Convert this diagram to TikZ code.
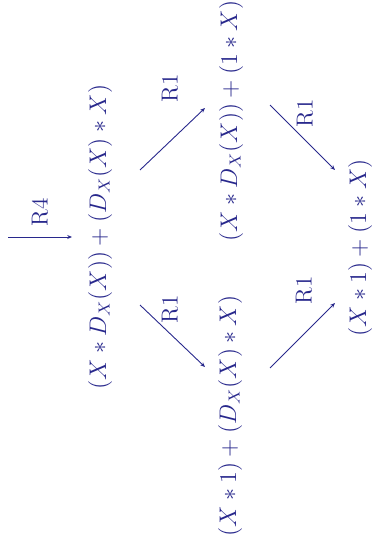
\documentclass[tikz,border=0pt]{standalone}
\usetikzlibrary{arrows.meta,calc}
\definecolor{ink}{RGB}{40,40,140}
\begin{document}
\begin{tikzpicture}[x=0.5pt,y=-0.5pt,
  term/.style={rotate=90,inner sep=0pt,text=ink,font=\fontsize{11.6}{14}\selectfont},
  rule/.style={rotate=90,inner sep=0pt,text=ink,font=\fontsize{11.6}{14}\selectfont},
  red/.style={draw=ink,line width=0.45pt,-{Stealth[length=2.4pt,width=2pt]}}]
\useasboundingbox (0,0) rectangle (374,551);
% terms of the rewrite graph
\node[term] (a) at (100,237) {$(X*D_X(X))+(D_X(X)*X)$};
\node[term] (b) at (231,121) {$(X*D_X(X))+(1*X)$};
\node[term] (c) at (230,416) {$(X*1)+(D_X(X)*X)$};
\node[term] (d) at (360,248) {$(X*1)+(1*X)$};
% incoming step
\coordinate (start) at (8,237);
\draw[red] (start) -- ($(a)+(-28,0)$);
\node[rule] (r4) at (40,212) {R4};
% rewrite steps
\draw[red] ($(a)+(40,-67)$) -- ($(b)+(-26,-13)$);
\draw[red] ($(a)+(40,68)$) -- ($(c)+(-25,-49)$);
\draw[red] ($(b)+(39,-16)$) -- ($(d)+(-25,-78)$);
\draw[red] ($(c)+(40,-48)$) -- ($(d)+(-25,55)$);
\node[rule] (l1) at (170,88) {R1};
\node[rule] (l2) at (170,309) {R1};
\node[rule] (l3) at (305,113) {R1};
\node[rule] (l4) at (304,290) {R1};
\end{tikzpicture}
\end{document}
